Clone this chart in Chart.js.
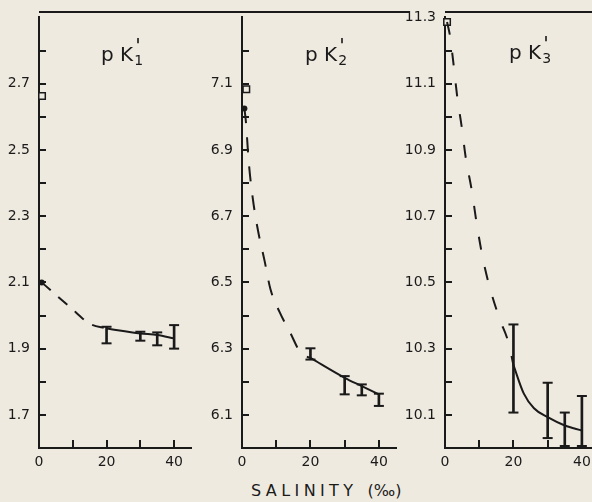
<!DOCTYPE html>
<html>
<head>
<meta charset="utf-8">
<script src="https://cdn.jsdelivr.net/npm/chart.js@4"></script>
<style>
  html, body { margin: 0; padding: 0; }
  body { width: 592px; height: 502px; overflow: hidden; position: relative; background: #efeae0; }
  canvas { position: absolute; top: 0; }
  .line { position: absolute; height: 0; border-top: 2px solid #1a1a1a; }
  .t { position: absolute; font: 20px "DejaVu Sans", sans-serif; color: #1a1a1a; line-height: 1; white-space: nowrap; }
  .t .ss { position: relative; display: inline-block; width: 11px; height: 20px; }
  .t .pr { position: absolute; left: 2px; top: -6px; font-size: 20px; }
  .t .sb { position: absolute; left: 1px; top: 12px; font-size: 14px; }
  .xt { position: absolute; left: 251px; top: 481px; font: 16px "DejaVu Sans", sans-serif; letter-spacing: 4.4px; color: #1a1a1a; white-space: nowrap; }
  .xt span { letter-spacing: 0; margin-left: 10px; }
</style>
</head>
<body>
<canvas id="k1" width="200" height="480" style="left:0"></canvas>
<canvas id="k2" width="205" height="480" style="left:200px"></canvas>
<canvas id="k3" width="210" height="480" style="left:400px"></canvas>
<div class="line" style="left:39px; top:11px; width:371px"></div>
<div class="line" style="left:445px; top:11px; width:150px"></div>
<div class="t" style="left:101px; top:41px">p K<span class="ss"><span class="pr">'</span><span class="sb">1</span></span></div>
<div class="t" style="left:305px; top:41px">p K<span class="ss"><span class="pr">'</span><span class="sb">2</span></span></div>
<div class="t" style="left:509px; top:39px">p K<span class="ss"><span class="pr">'</span><span class="sb">3</span></span></div>
<div class="xt">SALINITY<span>(‰)</span></div>
<script>
const ink = '#1a1a1a';
const paper = '#efeae0';

// salinity ticks / labels (shared)
const xTicks = [10, 20, 30, 40];
const xLabels = [0, 20, 40];
const errX = [20, 30, 35, 40];

// pK'1
const k1Labels = [1.7, 1.9, 2.1, 2.3, 2.5, 2.7];
const k1SquareX = [0.9], k1SquareY = [2.663];
const k1DotX = [0.8], k1DotY = [2.10];
const k1DashX = [0.8, 3.8, 8.9, 15.1, 20];
const k1DashY = [2.10, 2.073, 2.028, 1.975, 1.961];
const k1FitX = [20, 30, 35, 40];
const k1FitY = [1.961, 1.946, 1.941, 1.931];
const k1Lo = [1.916, 1.924, 1.910, 1.900];
const k1Hi = [1.966, 1.951, 1.949, 1.971];

// pK'2
const k2Labels = [6.1, 6.3, 6.5, 6.7, 6.9, 7.1];
const k2SquareX = [1.26], k2SquareY = [7.083];
const k2DotX = [0.7], k2DotY = [7.025];
const k2DashX = [0.7, 1.1, 2, 3.2, 4.7, 6.6, 8.3, 11, 14, 17.3, 20];
const k2DashY = [7.025, 6.99, 6.86, 6.75, 6.655, 6.565, 6.48, 6.41, 6.35, 6.285, 6.272];
const k2FitX = [20, 30, 35, 40];
const k2FitY = [6.272, 6.212, 6.187, 6.162];
const k2Lo = [6.267, 6.162, 6.159, 6.127];
const k2Hi = [6.301, 6.217, 6.192, 6.164];

// pK'3
const k3Labels = [10.1, 10.3, 10.5, 10.7, 10.9, 11.1, 11.3];
const k3SquareX = [0.6], k3SquareY = [11.286];
const k3DashX = [0.6, 1.5, 2.4, 3.6, 4.9, 6.1, 7.8, 9.3, 11, 13.2, 16.1, 18.5, 20];
const k3DashY = [11.286, 11.242, 11.167, 11.058, 10.968, 10.874, 10.779, 10.675, 10.575, 10.48, 10.386, 10.32, 10.25];
const k3FitX = [20, 23, 26, 30, 35, 40];
const k3FitY = [10.25, 10.165, 10.12, 10.093, 10.068, 10.053];
const k3Lo = [10.107, 10.030, 10.006, 10.006];
const k3Hi = [10.373, 10.197, 10.107, 10.157];

const pts = (xs, ys) => xs.map((x, i) => ({ x, y: ys[i] }));
const near = (list, v) => list.some(l => Math.abs(l - v) < 1e-6);

// tick marks drawn inward from the axes
const innerTicks = {
    id: 'innerTicks',
    afterDraw(chart) {
        const { ctx, chartArea: a, scales: { x, y } } = chart;
        ctx.save();
        ctx.strokeStyle = ink;
        ctx.lineWidth = 2;
        ctx.beginPath();
        y.ticks.forEach(t => {
            if (t.value > y.min + 1e-6 && t.value < y.max - 1e-6) {
                const py = Math.round(y.getPixelForValue(t.value));
                ctx.moveTo(a.left, py);
                ctx.lineTo(a.left + 7, py);
            }
        });
        xTicks.forEach(v => {
            const px = Math.round(x.getPixelForValue(v));
            ctx.moveTo(px, a.bottom);
            ctx.lineTo(px, a.bottom - 8);
        });
        ctx.stroke();
        ctx.restore();
    }
};

function makePanel(id, p) {
    const datasets = [
        { type: 'line', data: pts(p.dashX, p.dashY), borderColor: ink, borderWidth: 2, borderDash: p.dash,
          borderCapStyle: 'butt', pointRadius: 0, cubicInterpolationMode: 'monotone', clip: false },
        { type: 'line', data: pts(p.fitX, p.fitY), borderColor: ink, borderWidth: 2,
          pointRadius: 0, cubicInterpolationMode: 'monotone', clip: false },
        { type: 'bar', data: errX.map((x, i) => ({ x, y: [p.lo[i], p.hi[i]] })), backgroundColor: ink,
          barThickness: 2, grouped: false, borderWidth: 0 },
        { data: pts(errX, p.lo), pointStyle: 'line', pointRadius: 5, borderColor: ink, pointBorderWidth: 2, clip: false },
        { data: pts(errX, p.hi), pointStyle: 'line', pointRadius: 5, borderColor: ink, pointBorderWidth: 2, clip: false },
        { data: pts(p.sqX, p.sqY), pointStyle: 'rect', pointRadius: 4.6, backgroundColor: paper,
          borderColor: ink, pointBorderWidth: 1.5, clip: false }
    ];
    if (p.dotX) {
        datasets.push({ data: pts(p.dotX, p.dotY), pointStyle: 'circle', pointRadius: 3,
          backgroundColor: ink, borderColor: ink, pointBorderWidth: 0, clip: false });
    }
    const font = { family: '"DejaVu Sans", sans-serif', size: 14 };
    return new Chart(document.getElementById(id), {
        type: 'scatter',
        data: { datasets },
        plugins: [innerTicks],
        options: {
            responsive: false,
            animation: false,
            layout: { padding: { top: 12, bottom: 2, left: 0, right: p.padRight } },
            plugins: { legend: { display: false }, tooltip: { enabled: false } },
            scales: {
                x: {
                    type: 'linear', min: 0, max: 45, offset: false,
                    afterFit: s => { s.height = 30; },
                    border: { color: ink, width: 2 },
                    grid: { display: false, drawTicks: false, offset: false },
                    ticks: { stepSize: 10, includeBounds: false, autoSkip: false, maxRotation: 0, padding: 6, color: ink, font,
                             callback: v => near(xLabels, v) ? String(v) : '' }
                },
                y: {
                    type: 'linear', min: p.min, max: p.max, beginAtZero: false,
                    afterFit: s => { s.width = p.yWidth; },
                    border: { color: ink, width: 2 },
                    grid: { display: false, drawTicks: false },
                    ticks: { stepSize: 0.1, autoSkip: false, padding: 9, color: ink, font,
                             callback: v => near(p.labels, v) ? v.toFixed(1) : '' }
                }
            }
        }
    });
}

makePanel('k1', { min: 1.6, max: 2.9, labels: k1Labels, yWidth: 39, padRight: 9, dash: [12, 10],
    dashX: k1DashX, dashY: k1DashY, fitX: k1FitX, fitY: k1FitY, lo: k1Lo, hi: k1Hi,
    sqX: k1SquareX, sqY: k1SquareY, dotX: k1DotX, dotY: k1DotY });
makePanel('k2', { min: 6.0, max: 7.3, labels: k2Labels, yWidth: 42, padRight: 9, dash: [15, 14],
    dashX: k2DashX, dashY: k2DashY, fitX: k2FitX, fitY: k2FitY, lo: k2Lo, hi: k2Hi,
    sqX: k2SquareX, sqY: k2SquareY, dotX: k2DotX, dotY: k2DotY });
makePanel('k3', { min: 10.0, max: 11.3, labels: k3Labels, yWidth: 45, padRight: 11, dash: [13, 18],
    dashX: k3DashX, dashY: k3DashY, fitX: k3FitX, fitY: k3FitY, lo: k3Lo, hi: k3Hi,
    sqX: k3SquareX, sqY: k3SquareY });
</script>
</body>
</html>
